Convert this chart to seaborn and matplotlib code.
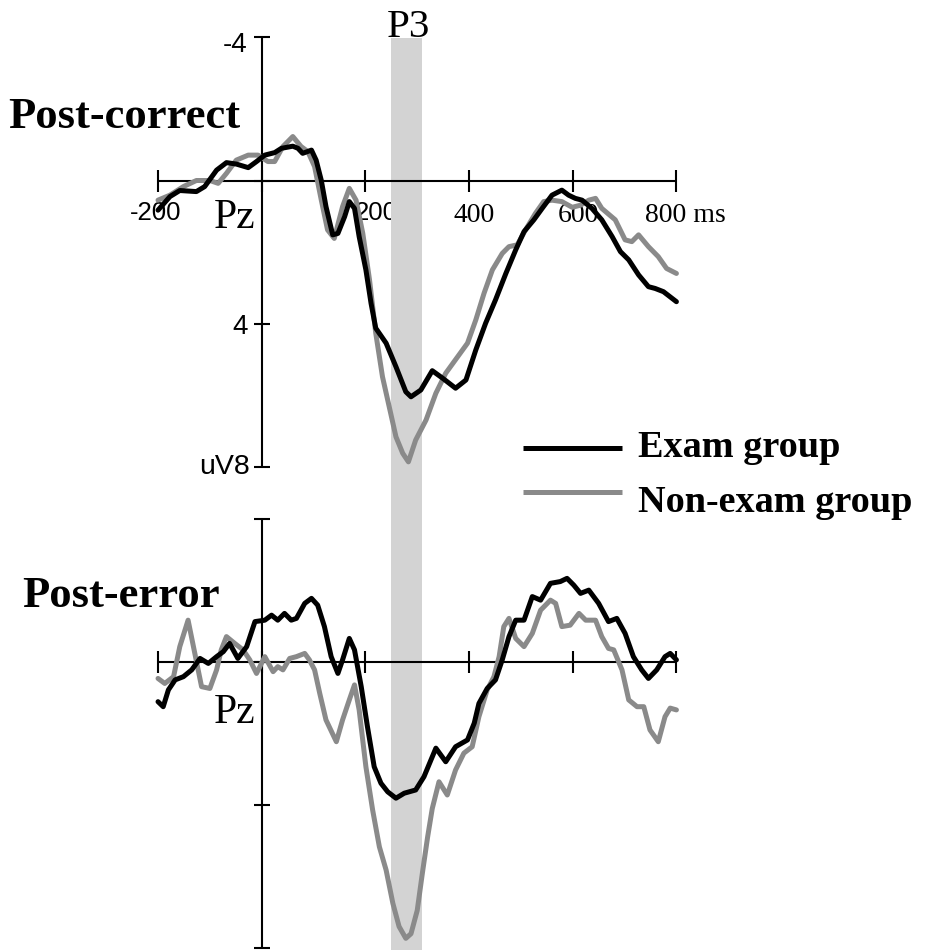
import numpy as np
import pandas as pd
import matplotlib
matplotlib.use("Agg")
import matplotlib.pyplot as plt
import seaborn as sns

# ---------------- data (time in ms, amplitude in uV at Pz) ----------------
pc_exam_t = [-200, -177, -158, -126, -110, -87, -68, -49, -26, -10, 6, 25, 38, 60, 70,
             79, 96, 105, 115, 124, 137, 147, 160, 169, 179, 188, 201, 211, 220, 240,
             259, 278, 288, 307, 329, 349, 374, 394, 413, 432, 451, 471, 490, 506, 525,
             541, 560, 579, 592, 605, 618, 637, 656, 676, 692, 708, 727, 746, 759, 775, 800]
pc_exam_v = [0.83, 0.45, 0.28, 0.31, 0.17, -0.29, -0.50, -0.46, -0.36, -0.53, -0.71, -0.78, -0.90, -0.96, -0.90,
             -0.76, -0.85, -0.57, 0.00, 0.73, 1.52, 1.48, 1.01, 0.59, 0.78, 1.57, 2.50, 3.44, 4.13, 4.55,
             5.21, 5.91, 6.05, 5.86, 5.32, 5.53, 5.81, 5.58, 4.74, 3.99, 3.34, 2.60, 1.94, 1.43, 1.10,
             0.78, 0.41, 0.27, 0.41, 0.50, 0.55, 0.78, 1.10, 1.57, 1.99, 2.22, 2.64, 2.97, 3.02, 3.11, 3.39]

pc_non_t = [-200, -177, -151, -126, -100, -84, -68, -49, -26, -7, 12, 25, 41, 60, 76,
            89, 102, 115, 127, 140, 156, 169, 182, 195, 208, 220, 233, 246, 259, 272,
            283, 297, 317, 336, 355, 378, 397, 413, 429, 445, 464, 477, 493, 509, 528,
            544, 560, 579, 599, 615, 631, 644, 656, 682, 701, 714, 727, 746, 765, 781, 800]
pc_non_v = [0.55, 0.41, 0.17, 0.00, 0.00, 0.08, -0.20, -0.57, -0.71, -0.71, -0.53, -0.53, -0.95, -1.23, -0.95,
            -0.81, -0.39, 0.55, 1.38, 1.62, 0.73, 0.22, 0.55, 1.48, 2.78, 4.27, 5.49, 6.33, 7.17, 7.63,
            7.87, 7.26, 6.70, 5.95, 5.39, 4.93, 4.55, 3.90, 3.15, 2.50, 2.04, 1.85, 1.80, 1.38, 0.92,
            0.59, 0.55, 0.59, 0.75, 0.69, 0.55, 0.50, 0.78, 1.10, 1.66, 1.71, 1.52, 1.85, 2.13, 2.46, 2.60]

pe_exam_t = [-200, -190, -180, -167, -151, -135, -119, -103, -87, -74, -62, -46, -29, -13, 6,
             19, 31, 44, 57, 67, 83, 96, 108, 121, 134, 147, 156, 169, 179, 192,
             204, 217, 230, 243, 259, 275, 297, 313, 336, 355, 374, 397, 410, 419, 435,
             451, 464, 477, 490, 506, 522, 538, 557, 576, 589, 602, 615, 631, 650, 669,
             685, 701, 717, 733, 746, 762, 778, 788, 800]
pe_exam_v = [1.11, 1.25, 0.78, 0.50, 0.41, 0.22, -0.10, 0.04, -0.15, -0.29, -0.52, -0.10, -0.43, -1.13, -1.17,
             -1.31, -1.17, -1.36, -1.17, -1.22, -1.64, -1.78, -1.59, -0.99, -0.15, 0.32, -0.06, -0.66, -0.34, 0.69,
             1.81, 2.93, 3.39, 3.63, 3.81, 3.67, 3.58, 3.21, 2.41, 2.79, 2.37, 2.18, 1.71, 1.16, 0.74,
             0.50, -0.06, -0.71, -1.17, -1.17, -1.83, -1.73, -2.20, -2.25, -2.34, -2.15, -1.92, -2.01, -1.64, -1.13,
             -1.22, -0.80, -0.15, 0.22, 0.46, 0.22, -0.15, -0.24, -0.06]

pe_non_t = [-200, -187, -170, -158, -142, -129, -116, -100, -87, -78, -68, -52, -36, -23, -10,
            6, 22, 31, 41, 54, 67, 83, 92, 102, 112, 124, 144, 156, 169, 179,
            188, 201, 214, 227, 240, 253, 265, 278, 288, 300, 310, 320, 329, 342, 358,
            374, 390, 406, 419, 435, 448, 458, 467, 477, 490, 506, 522, 538, 557, 567,
            579, 595, 612, 625, 644, 656, 669, 679, 695, 708, 724, 737, 749, 765, 778, 788, 800]
pe_non_v = [0.46, 0.60, 0.41, -0.43, -1.17, -0.24, 0.69, 0.74, 0.22, -0.34, -0.71, -0.52, -0.34, -0.06, 0.32,
            -0.15, 0.27, 0.13, 0.22, -0.10, -0.15, -0.24, -0.06, 0.22, 0.88, 1.62, 2.23, 1.62, 1.06, 0.64,
            1.34, 2.93, 4.14, 5.17, 5.82, 6.75, 7.40, 7.73, 7.60, 6.95, 5.90, 4.90, 4.10, 3.35, 3.72,
            3.02, 2.55, 2.37, 1.53, 0.78, 0.41, -0.15, -0.99, -1.22, -0.66, -0.43, -0.80, -1.45, -1.73, -1.64,
            -0.99, -1.03, -1.36, -1.17, -1.17, -0.71, -0.38, -0.34, 0.22, 1.06, 1.25, 1.25, 1.90, 2.23, 1.53, 1.29, 1.34]

groups = ["Exam group", "Non-exam group"]
x_ticks = [-200, 0, 200, 400, 600, 800]
y_ticks = [-4, 0, 4, 8]
p3_window = (250, 310)

# ---------------- style ----------------
sns.set_theme(style="white")
SERIF = ["Liberation Serif", "DejaVu Serif"]
SANS = ["Liberation Sans", "DejaVu Sans"]
plt.rcParams["font.family"] = SERIF
plt.rcParams["text.color"] = "black"

W, H = 939, 950
fig = plt.figure(figsize=(W / 100, H / 100), dpi=100)
fig.patch.set_facecolor("white")

# pixel-coordinate layer for annotations (kept beneath the waveforms)
ov = fig.add_axes([0, 0, 1, 1])
ov.set_xlim(0, W)
ov.set_ylim(H, 0)
ov.axis("off")

palette = {"Exam group": "#000000", "Non-exam group": "#8a8a8a"}
LW = 3.6

# shared scale: px per ms and px per uV
PX_MS = 0.5184
PX_UV = 35.75
X0 = 261.7  # pixel column of t = 0


def make_panel(top_px, bot_px, zero_px):
    ax = fig.add_axes([0, 1 - bot_px / H, 1, (bot_px - top_px) / H])
    ax.set_facecolor("none")
    ax.set_xlim(-X0 / PX_MS, (W - X0) / PX_MS)
    ax.set_ylim((bot_px - zero_px) / PX_UV, (top_px - zero_px) / PX_UV)  # negative up
    ax.axis("off")
    return ax


ax_top = make_panel(0, 490, 180.5)
ax_bot = make_panel(490, 950, 662.0)


def draw_panel(ax, exam_t, exam_v, non_t, non_v, band_top):
    # P3 window shading
    y_bottom = ax.get_ylim()[0]
    ax.fill_between(list(p3_window), band_top, y_bottom, color="#d3d3d3", lw=0, zorder=0)
    # axes drawn through the origin
    ax.plot([x_ticks[0], x_ticks[-1]], [0, 0], color="black", lw=1.5, zorder=2)
    ax.plot([0, 0], [y_ticks[0], y_ticks[-1]], color="black", lw=1.5, zorder=2)
    ax.plot(x_ticks, [0] * len(x_ticks), ls="none", marker="|", ms=16, mew=1.5,
            color="black", zorder=2)
    ax.plot([0] * len(y_ticks), y_ticks, ls="none", marker="_", ms=11.5, mew=1.5,
            color="black", zorder=2)
    df = pd.concat([
        pd.DataFrame({"time": exam_t, "uV": exam_v, "group": groups[0]}),
        pd.DataFrame({"time": non_t, "uV": non_v, "group": groups[1]}),
    ])
    sns.lineplot(data=df, x="time", y="uV", hue="group",
                 hue_order=[groups[1], groups[0]], palette=palette,
                 estimator=None, sort=False, linewidth=LW, legend=False, ax=ax,
                 zorder=3)
    for ln in ax.lines[-2:]:
        ln.set_solid_joinstyle("round")
        ln.set_solid_capstyle("round")
    ax.axis("off")


draw_panel(ax_top, pc_exam_t, pc_exam_v, pc_non_t, pc_non_v, band_top=-4)
draw_panel(ax_bot, pe_exam_t, pe_exam_v, pe_non_t, pe_non_v, band_top=ax_bot.get_ylim()[1])

# ---------------- text ----------------
ov.text(408, 37, "P3", fontsize=29.5, ha="center", va="baseline", family=SERIF)
ov.text(8, 128, "Post-correct", fontsize=32, fontweight="bold", ha="left", va="baseline", family=SERIF)
ov.text(22, 607, "Post-error", fontsize=32, fontweight="bold", ha="left", va="baseline", family=SERIF)
ov.text(255, 228, "Pz", fontsize=30, ha="right", va="baseline", family=SERIF)
ov.text(255, 723, "Pz", fontsize=30, ha="right", va="baseline", family=SERIF)

# y tick labels (top panel)
ov.text(247, 45, "-4", fontsize=20, ha="right", va="center", family=SANS)
ov.text(248, 327, "4", fontsize=20, ha="right", va="center", family=SANS)
ov.text(250, 467, "uV8", fontsize=20.5, ha="right", va="center", family=SANS)

# x tick labels (top panel)
ov.text(156, 220, "-200", fontsize=18.5, ha="center", va="baseline", family=SANS)
ov.text(376, 220, "200", fontsize=18.5, ha="center", va="baseline", family=SANS)
ov.text(474, 222, "400", fontsize=20, ha="center", va="baseline", family=SERIF)
ov.text(578, 222, "600", fontsize=20, ha="center", va="baseline", family=SERIF)
ov.text(645, 222, "800 ms", fontsize=20, ha="left", va="baseline", family=SERIF)

# legend
for label, y_line, y_text in [("Exam group", 447.7, 457), ("Non-exam group", 491.7, 511.7)]:
    ov.plot([523, 622], [y_line, y_line], color=palette[label], lw=LW, solid_capstyle="butt")
    ov.text(638, y_text, label, fontsize=27.5, fontweight="bold", ha="left", va="baseline", family=SERIF)

fig.savefig("out.png", dpi=100, facecolor="white")
